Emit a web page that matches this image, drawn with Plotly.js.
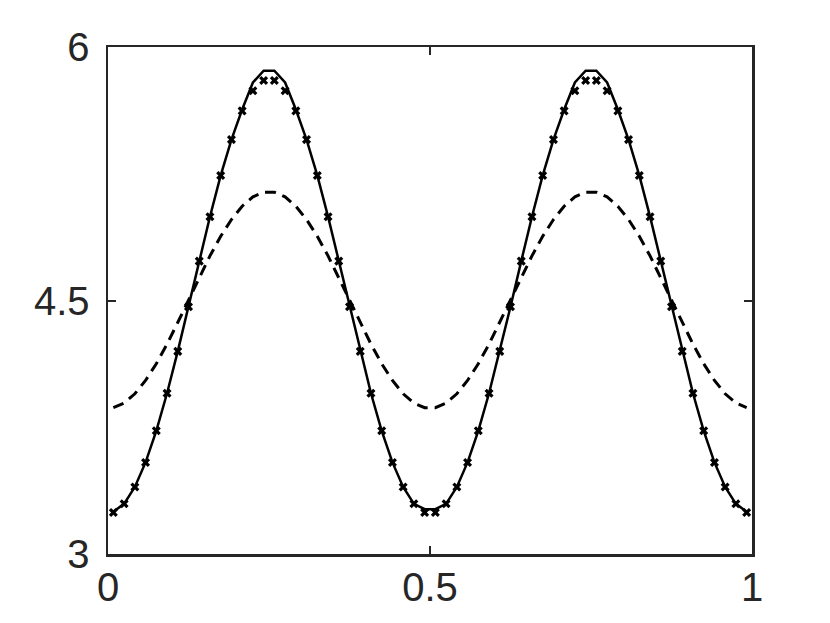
<!DOCTYPE html>
<html>
<head>
<meta charset="utf-8">
<script src="https://cdn.plot.ly/plotly-3.0.1.min.js"></script>
<style>
  html, body { margin: 0; padding: 0; background: #ffffff; }
  #chart { width: 830px; height: 623px; }
</style>
</head>
<body>
<div id="chart"></div>
<script>
// sample positions
const xs = [
  0.0083, 0.0250, 0.0417, 0.0583, 0.0750, 0.0917, 0.1083, 0.1250, 0.1417, 0.1583,
  0.1750, 0.1917, 0.2083, 0.2250, 0.2417, 0.2583, 0.2750, 0.2917, 0.3083, 0.3250,
  0.3417, 0.3583, 0.3750, 0.3917, 0.4083, 0.4250, 0.4417, 0.4583, 0.4750, 0.4917,
  0.5083, 0.5250, 0.5417, 0.5583, 0.5750, 0.5917, 0.6083, 0.6250, 0.6417, 0.6583,
  0.6750, 0.6917, 0.7083, 0.7250, 0.7417, 0.7583, 0.7750, 0.7917, 0.8083, 0.8250,
  0.8417, 0.8583, 0.8750, 0.8917, 0.9083, 0.9250, 0.9417, 0.9583, 0.9750, 0.9917
];

// solid curve
const solidY = [
  3.250, 3.297, 3.397, 3.542, 3.729, 3.951, 4.199, 4.463, 4.733, 4.996,
  5.240, 5.452, 5.630, 5.790, 5.860, 5.860, 5.790, 5.630, 5.452, 5.240,
  4.996, 4.733, 4.463, 4.199, 3.951, 3.729, 3.542, 3.397, 3.297, 3.265,
  3.265, 3.297, 3.397, 3.542, 3.729, 3.951, 4.199, 4.463, 4.733, 4.996,
  5.240, 5.452, 5.630, 5.790, 5.860, 5.860, 5.790, 5.630, 5.452, 5.240,
  4.996, 4.733, 4.463, 4.199, 3.951, 3.729, 3.542, 3.397, 3.297, 3.250
];

// x markers
const markY = [
  3.246, 3.297, 3.397, 3.542, 3.729, 3.951, 4.199, 4.463, 4.733, 4.996,
  5.240, 5.452, 5.622, 5.741, 5.802, 5.802, 5.741, 5.622, 5.452, 5.240,
  4.996, 4.733, 4.463, 4.199, 3.951, 3.729, 3.542, 3.397, 3.297, 3.246,
  3.246, 3.297, 3.397, 3.542, 3.729, 3.951, 4.199, 4.463, 4.733, 4.996,
  5.240, 5.452, 5.622, 5.741, 5.802, 5.802, 5.741, 5.622, 5.452, 5.240,
  4.996, 4.733, 4.463, 4.199, 3.951, 3.729, 3.542, 3.397, 3.297, 3.246
];

// dashed curve
const dashY = [
  3.866, 3.893, 3.948, 4.027, 4.126, 4.242, 4.370, 4.503, 4.636, 4.764,
  4.880, 4.979, 5.058, 5.113, 5.141, 5.141, 5.113, 5.058, 4.979, 4.880,
  4.764, 4.636, 4.503, 4.370, 4.242, 4.126, 4.027, 3.948, 3.893, 3.866,
  3.866, 3.893, 3.948, 4.027, 4.126, 4.242, 4.370, 4.503, 4.636, 4.764,
  4.880, 4.979, 5.058, 5.113, 5.141, 5.141, 5.113, 5.058, 4.979, 4.880,
  4.764, 4.636, 4.503, 4.370, 4.242, 4.126, 4.027, 3.948, 3.893, 3.866
];

const xTicks = [0, 0.5, 1];
const xTickText = ['0', '0.5', '1'];
const yTicks = [3, 4.5, 6];
const yTickText = ['3', '4.5', '6'];

const axisColor = '#262626';

const dashTrace = {
    x: xs, y: dashY,
    type: 'scatter', mode: 'lines',
    line: { color: '#000000', width: 3, dash: '11px,7px' },
    hoverinfo: 'skip'
};

const solidTrace = {
    x: xs, y: solidY,
    type: 'scatter', mode: 'lines',
    line: { color: '#000000', width: 2.5 },
    hoverinfo: 'skip'
};

const markTrace = {
    x: xs, y: markY,
    type: 'scatter', mode: 'markers',
    marker: { symbol: 'x', size: 8, color: '#000000', line: { width: 0 } },
    hoverinfo: 'skip'
};

const axisCommon = {
    showgrid: false,
    zeroline: false,
    showline: true,
    linecolor: axisColor,
    linewidth: 2.5,
    mirror: 'ticks',
    ticks: 'inside',
    ticklen: 8,
    tickwidth: 2,
    tickcolor: axisColor,
    tickfont: { family: 'Liberation Sans, Arial, sans-serif', size: 40, color: axisColor }
};

const layout = {
    width: 830,
    height: 623,
    margin: { l: 108, r: 78, t: 47, b: 69 },
    paper_bgcolor: '#ffffff',
    plot_bgcolor: '#ffffff',
    showlegend: false,
    xaxis: Object.assign({}, axisCommon, {
        range: [0, 1],
        tickmode: 'array', tickvals: xTicks, ticktext: xTickText,
        ticklabelstandoff: -4
    }),
    yaxis: Object.assign({}, axisCommon, {
        range: [3, 6],
        tickmode: 'array', tickvals: yTicks, ticktext: yTickText,
        ticklabelstandoff: 8
    })
};

Plotly.newPlot('chart', [dashTrace, solidTrace, markTrace], layout, { displayModeBar: false, staticPlot: true });
</script>
</body>
</html>
